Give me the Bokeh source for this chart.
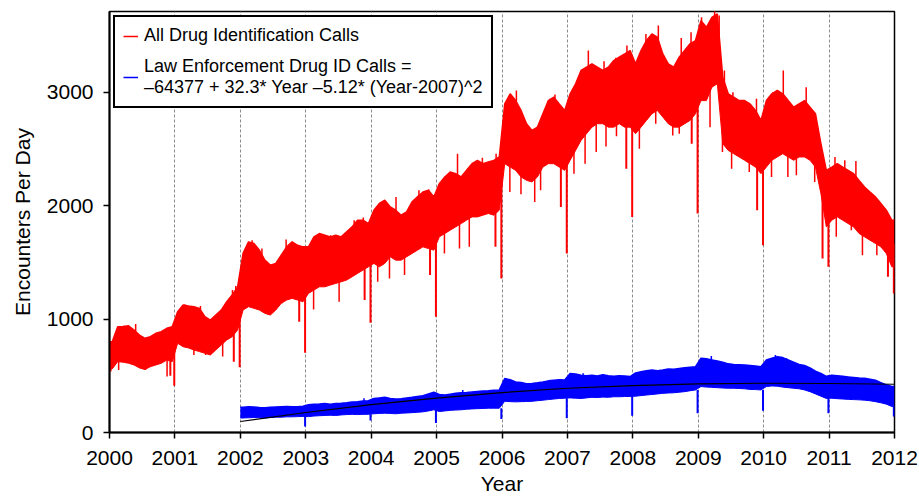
from bokeh.plotting import figure
from bokeh.models import Range1d, FixedTicker, Legend, LegendItem
from bokeh.embed import file_html
from bokeh.resources import INLINE

# ---------------- data ----------------
years = list(range(2000, 2012))          # red series years (monthly readings)
blue_years = list(range(2002, 2012))     # blue series years (monthly readings)

# All Drug Identification Calls: monthly upper / lower envelope of the daily band
red_hi = [
    800, 932, 935, 940, 903, 859, 830, 845, 874, 888, 918, 932,          # 2000
    1064, 1123, 1115, 1109, 1094, 1020, 991, 1035, 1079, 1152, 1211, 1284,  # 2001
    1578, 1680, 1665, 1606, 1519, 1475, 1490, 1563, 1636, 1680, 1650, 1636,  # 2002
    1636, 1724, 1753, 1739, 1724, 1739, 1724, 1768, 1812, 1871, 1871, 1841,  # 2003
    1959, 2018, 2047, 1988, 1959, 1915, 1944, 2032, 2076, 2120, 2135, 2076,  # 2004
    2193, 2252, 2296, 2281, 2252, 2311, 2369, 2398, 2369, 2384, 2398, 2428,  # 2005
    2896, 2985, 2925, 2838, 2721, 2662, 2691, 2809, 2925, 2955, 2896, 2838,  # 2006
    2985, 3073, 3190, 3219, 3249, 3219, 3190, 3219, 3278, 3307, 3336, 3366,  # 2007
    3249, 3366, 3454, 3512, 3483, 3336, 3249, 3219, 3307, 3366, 3425, 3454,  # 2008
    3629, 3571, 3659, 3688, 3131, 2985, 2955, 2925, 2925, 2896, 2838, 2750,  # 2009
    2925, 2985, 3014, 2985, 2925, 2867, 2896, 2925, 2867, 2809, 2545, 2310,  # 2010
    2339, 2369, 2339, 2310, 2281, 2222, 2164, 2120, 2076, 2018, 1959, 1871,  # 2011
]
red_lo = [
    560, 624, 620, 610, 595, 569, 555, 580, 595, 610, 638, 624,          # 2000
    786, 756, 745, 727, 713, 698, 683, 727, 771, 815, 844, 903,          # 2001
    1079, 1109, 1094, 1079, 1050, 1035, 1079, 1138, 1167, 1182, 1167, 1152,  # 2002
    1226, 1255, 1284, 1284, 1299, 1314, 1328, 1343, 1372, 1402, 1431, 1460,  # 2003
    1490, 1460, 1490, 1548, 1519, 1519, 1548, 1578, 1607, 1636, 1621, 1607,  # 2004
    1724, 1753, 1783, 1812, 1841, 1871, 1900, 1900, 1915, 1930, 1915, 1959,  # 2005
    2369, 2339, 2310, 2252, 2222, 2208, 2252, 2339, 2369, 2369, 2339, 2310,  # 2006
    2399, 2486, 2574, 2633, 2691, 2721, 2721, 2691, 2691, 2721, 2691, 2691,  # 2007
    2633, 2691, 2750, 2809, 2838, 2780, 2721, 2691, 2691, 2721, 2750, 2809,  # 2008
    2925, 2925, 3043, 3073, 2545, 2486, 2457, 2428, 2399, 2369, 2339, 2281,  # 2009
    2339, 2399, 2428, 2457, 2428, 2399, 2428, 2428, 2399, 2339, 2105, 1812,  # 2010
    1871, 1900, 1871, 1841, 1812, 1754, 1724, 1695, 1666, 1636, 1578, 1460,  # 2011
]
# holiday dips of the red series (decimal year, value)
red_dip_x = [2000.93, 2000.99, 2001.90, 2001.99, 2002.90, 2002.99, 2003.90, 2003.99,
             2004.90, 2004.99, 2005.90, 2005.99, 2006.90, 2006.99, 2007.90, 2007.99,
             2008.90, 2008.99, 2009.90, 2009.99, 2010.90, 2010.99, 2011.90, 2011.99]
red_dip_v = [500, 413, 624, 575, 976, 703, 1167, 967,
             1387, 1020, 1636, 1358, 1988, 1578, 2325, 1900,
             2545, 1930, 1959, 1651, 1534, 1460, 1372, 1226]
# single-day spikes sticking out of the band (decimal year, value)
red_spike_x = [
    2000.02, 2000.14, 2000.22, 2000.40, 2000.55, 2000.88,
    2001.15, 2001.29, 2001.39, 2001.47, 2001.73, 2001.88, 2001.93,
    2002.18, 2002.33, 2002.43, 2002.64, 2002.70,
    2003.12, 2003.18, 2003.38, 2003.51, 2003.74, 2003.88,
    2004.10, 2004.22, 2004.28, 2004.38, 2004.51, 2004.73, 2004.88,
    2005.12, 2005.32, 2005.35, 2005.50, 2005.70, 2005.91,
    2006.08, 2006.12, 2006.22, 2006.29, 2006.50, 2006.59, 2006.73, 2006.81,
    2007.10, 2007.27, 2007.32, 2007.44, 2007.56, 2007.59, 2007.74, 2007.75, 2007.91,
    2008.10, 2008.20, 2008.35, 2008.39, 2008.61, 2008.71, 2008.74, 2008.89,
    2009.05, 2009.18, 2009.25, 2009.32, 2009.37, 2009.40, 2009.51, 2009.53, 2009.78, 2009.89,
    2010.12, 2010.14, 2010.30, 2010.37, 2010.50, 2010.65, 2010.73, 2010.78,
    2011.09, 2011.11, 2011.24, 2011.34, 2011.41, 2011.51, 2011.62, 2011.73,
]
red_spike_v = [
    537, 551, 941, 956, 551, 493,
    1129, 683, 1114, 683, 669, 1255, 1290,
    1695, 1622, 1035, 1138, 1701,
    1085, 1724, 1739, 1152, 1871, 1894,
    1328, 2018, 1358, 2076, 1387, 2135, 2141,
    1578, 2457, 1622, 1636, 2422, 2457,
    2911, 2120, 3014, 2099, 2032, 2135, 2941, 2979,
    2281, 2369, 3366, 2471, 3272, 2521, 3302, 2610, 3410,
    2501, 3512, 2721, 3586, 2618, 2633, 3477, 3527,
    3659, 2691, 3732, 3674, 2471, 3190, 2325, 2999, 2296, 2941,
    2252, 2999, 3190, 2252, 2266, 3043, 2823, 2208,
    2428, 1724, 2399, 1783, 2393, 1563, 2120, 1563,
]

# Law Enforcement Drug ID Calls: monthly upper / lower envelope
blue_hi = [
    222, 228, 225, 220, 218, 222, 225, 228, 230, 226, 228, 232,   # 2002
    245, 250, 252, 255, 250, 255, 258, 262, 268, 272, 278, 280,   # 2003
    300, 305, 310, 300, 295, 298, 305, 310, 318, 325, 340, 355,   # 2004
    335, 330, 338, 345, 350, 352, 358, 362, 365, 368, 372, 375,   # 2005
    475, 465, 445, 440, 430, 432, 438, 445, 455, 460, 465, 463,   # 2006
    520, 515, 505, 500, 505, 498, 510, 500, 495, 500, 498, 493,   # 2007
    525, 535, 545, 550, 545, 550, 560, 558, 565, 570, 575, 580,   # 2008
    655, 650, 640, 630, 620, 605, 600, 598, 595, 590, 585, 580,   # 2009
    640, 655, 668, 660, 640, 620, 600, 590, 570, 540, 520, 495,   # 2010
    505, 500, 495, 490, 485, 480, 478, 470, 460, 440, 420, 405,   # 2011
]
blue_lo = [
    128, 130, 132, 130, 128, 132, 135, 135, 138, 138, 140, 142,   # 2002
    140, 145, 148, 150, 152, 150, 155, 158, 160, 158, 160, 160,   # 2003
    165, 168, 170, 168, 165, 170, 172, 175, 178, 182, 190, 200,   # 2004
    185, 190, 195, 198, 200, 205, 208, 210, 212, 214, 214, 214,   # 2005
    275, 272, 270, 272, 273, 275, 280, 285, 290, 295, 300, 302,   # 2006
    305, 302, 300, 305, 310, 308, 312, 310, 315, 315, 317, 317,   # 2007
    320, 325, 330, 335, 340, 345, 348, 350, 355, 360, 368, 375,   # 2008
    405, 400, 398, 395, 392, 390, 390, 388, 385, 380, 378, 375,   # 2009
    405, 410, 408, 400, 395, 390, 385, 375, 360, 340, 320, 300,   # 2010
    302, 298, 295, 292, 290, 288, 285, 280, 272, 262, 250, 230,   # 2011
]
blue_dip_x = [2002.99, 2003.99, 2004.99, 2005.99, 2006.99, 2007.99, 2008.99, 2009.99, 2010.99, 2011.99]
blue_dip_v = [53, 106, 83, 120, 126, 147, 170, 191, 170, 141]
blue_spike_x = [2003.89, 2005.40, 2006.06, 2007.24, 2009.20, 2010.18, 2010.35, 2011.95]
blue_spike_v = [302, 375, 478, 522, 675, 683, 654, 405]

# quadratic fit line, read at each year
fit_x = [2002, 2003, 2004, 2005, 2006, 2007, 2008, 2009, 2010, 2011, 2012]
fit_v = [97, 176, 246, 303, 352, 390, 413, 428, 434, 432, 425]

x_ticks = list(range(2000, 2013))
y_ticks = [0, 1000, 2000, 3000]

label_red = "All Drug Identification Calls"
label_blue = "Law Enforcement Drug ID Calls =\n\u201364377 + 32.3* Year \u20135.12* (Year-2007)^2"

# ---------------- build ----------------
FONT = "Liberation Sans"
RED = "#ff0000"
BLUE = "#0000ff"

def month_x(yrs):
    return [y + (m + 0.5) / 12.0 for y in yrs for m in range(12)]

rx = [years[0]] + month_x(years) + [years[-1] + 1]
rhi = [red_hi[0]] + red_hi + [red_hi[-1]]
rlo = [red_lo[0]] + red_lo + [red_lo[-1]]

bx = [blue_years[0]] + month_x(blue_years) + [blue_years[-1] + 1]
bhi = [blue_hi[0]] + blue_hi + [blue_hi[-1]]
blo = [blue_lo[0]] + blue_lo + [blue_lo[-1]]

def month_lookup(xs, lst, first_year):
    out = []
    for xv in xs:
        idx = int((xv - first_year) * 12)
        idx = max(0, min(len(lst) - 1, idx))
        out.append(lst[idx])
    return out

red_mid = [(a + b) / 2.0 for a, b in zip(red_hi, red_lo)]
blue_mid = [(a + b) / 2.0 for a, b in zip(blue_hi, blue_lo)]

p = figure(width=919, height=497, output_backend="svg", toolbar_location=None,
           x_range=Range1d(2000, 2012), y_range=Range1d(0, 3710),
           min_border_left=109, min_border_right=25, min_border_top=11, min_border_bottom=64)

p.background_fill_color = "white"
p.border_fill_color = "white"
p.outline_line_color = "black"
p.outline_line_width = 1.5
p.outline_line_alpha = 1.0

# red band
p.varea(x=rx, y1=rlo, y2=rhi, fill_color=RED)
r_red = p.line(x=rx, y=rhi, line_color=RED, line_width=1.5)
p.line(x=rx, y=rlo, line_color=RED, line_width=1)
p.segment(x0=red_spike_x, y0=month_lookup(red_spike_x, red_mid, years[0]), x1=red_spike_x,
          y1=red_spike_v, line_color=RED, line_width=1.5)
p.segment(x0=red_dip_x, y0=red_dip_v, x1=red_dip_x,
          y1=month_lookup(red_dip_x, red_mid, years[0]), line_color=RED, line_width=2)

# blue band
p.varea(x=bx, y1=blo, y2=bhi, fill_color=BLUE)
r_blue = p.line(x=bx, y=bhi, line_color=BLUE, line_width=1.5)
p.line(x=bx, y=blo, line_color=BLUE, line_width=1)
p.segment(x0=blue_spike_x, y0=month_lookup(blue_spike_x, blue_mid, blue_years[0]), x1=blue_spike_x,
          y1=blue_spike_v, line_color=BLUE, line_width=1.5)
p.segment(x0=blue_dip_x, y0=blue_dip_v, x1=blue_dip_x,
          y1=month_lookup(blue_dip_x, blue_lo, blue_years[0]), line_color=BLUE, line_width=2)

# fit line
p.line(x=fit_x, y=fit_v, line_color="black", line_width=1.2)

# axes
for ax in (p.xaxis[0], p.yaxis[0]):
    ax.axis_line_width = 2
    ax.axis_line_color = "black"
    ax.major_tick_line_width = 1.5
    ax.major_tick_out = 6
    ax.major_tick_in = 0
    ax.minor_tick_out = 0
    ax.minor_tick_in = 0
    ax.major_label_text_font = FONT
    ax.major_label_text_font_size = "21px"
    ax.major_label_text_color = "black"
    ax.axis_label_text_font = FONT
    ax.axis_label_text_font_size = "21px"
    ax.axis_label_text_font_style = "normal"
    ax.axis_label_text_color = "black"

p.xaxis.ticker = FixedTicker(ticks=x_ticks)
p.yaxis.ticker = FixedTicker(ticks=y_ticks)
p.xaxis.axis_label = "Year"
p.yaxis.axis_label = "Encounters Per Day"
p.xaxis.major_label_standoff = 12
p.yaxis.major_label_standoff = 10
p.xaxis.axis_label_standoff = 4
p.yaxis.axis_label_standoff = 10

p.ygrid.grid_line_color = None
p.xgrid.ticker = FixedTicker(ticks=x_ticks)
p.xgrid.grid_line_color = "#8c8c8c"
p.xgrid.grid_line_dash = "3 2"
p.xgrid.grid_line_width = 1

legend = Legend(items=[LegendItem(label=label_red, renderers=[r_red]),
                       LegendItem(label=label_blue, renderers=[r_blue])],
                location="top_left")
legend.margin = 4
legend.padding = 8
legend.spacing = 10
legend.glyph_width = 15
legend.glyph_height = 20
legend.label_standoff = 6
legend.label_text_font = FONT
legend.label_text_font_size = "18px"
legend.label_text_color = "black"
legend.label_text_line_height = 1.15
legend.border_line_color = "black"
legend.border_line_alpha = 1.0
legend.border_line_width = 2
legend.background_fill_color = "white"
legend.background_fill_alpha = 1.0
p.add_layout(legend)

open("out.html", "w").write(file_html(p, INLINE))
